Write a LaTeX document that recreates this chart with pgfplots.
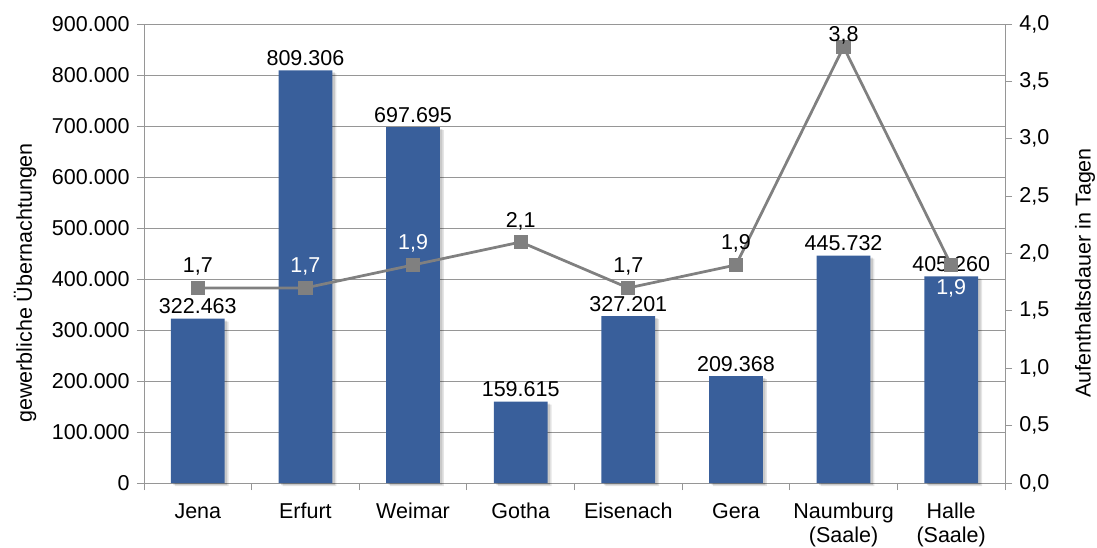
\documentclass[border=0pt]{standalone}
\usepackage{fontspec}
\setmainfont{Liberation Sans}
\usepackage{pgfplots}
\usepackage{pgfplotstable}
\pgfplotsset{compat=1.18}

\definecolor{barblue}{RGB}{57,95,155}
\definecolor{linegray}{RGB}{128,128,128}
\definecolor{gridgray}{RGB}{150,150,150}

% gewerbliche Übernachtungen je Stadt
\pgfplotstableread{
x y lab
0 322463 322.463
1 809306 809.306
2 697695 697.695
3 159615 159.615
4 327201 327.201
5 209368 209.368
6 445732 445.732
7 405260 405.260
}\uebernachtungen

% durchschnittliche Aufenthaltsdauer in Tagen
\pgfplotstableread{
x y
0 1.7
1 1.7
2 1.9
3 2.1
4 1.7
5 1.9
6 3.8
7 1.9
}\dauer

% Beschriftungen der Linie, nach Lage und Farbe gruppiert
\pgfplotstableread{
x y lab
0 1.7 1,7
3 2.1 2,1
4 1.7 1,7
5 1.9 1,9
}\dauerObenSchwarz
\pgfplotstableread{
x y lab
1 1.7 1,7
2 1.9 1,9
}\dauerObenWeiss
\pgfplotstableread{
x y lab
6 3.8 3,8
}\dauerSpitze
\pgfplotstableread{
x y lab
7 1.9 1,9
}\dauerUntenWeiss

\pgfplotsset{
  frame/.style={
    at={(144pt,64pt)}, anchor=south west,
    scale only axis, width=861pt, height=459pt,
    xmin=-0.5, xmax=7.5,
    tick align=outside,
    major tick length=7pt, minor tick length=7pt,
    tick style={gridgray, line width=1pt},
    axis line style={gridgray, line width=1pt},
    clip=false,
  },
}

\begin{document}
\fontsize{21.5}{23.5}\selectfont
\begin{tikzpicture}
\begin{axis}[
  frame,
  ymin=0, ymax=900000,
  ytick={0,100000,200000,300000,400000,500000,600000,700000,800000,900000},
  scaled y ticks=false,
  yticklabel style={/pgf/number format/.cd, fixed, 1000 sep={.}, assume math mode=true},
  ymajorgrids, grid style={gridgray, line width=1pt},
  ytick pos=left, xtick pos=bottom,
  xtick={0,...,7},
  xticklabels={Jena,Erfurt,Weimar,Gotha,Eisenach,Gera,{Naumburg\\(Saale)},{Halle\\(Saale)}},
  xticklabel style={align=center, yshift=-6pt},
  major x tick style={draw=none},
  minor xtick={-0.5,0.5,...,7.5},
  ylabel={gewerbliche Übernachtungen},
  ylabel style={at={(axis description cs:-0.138,0.436)}, anchor=center},
]
% weicher Schatten hinter den Säulen
\addplot[ybar, bar width=0.5, fill=black, fill opacity=0.12, draw=none,
  xshift=2.5pt, yshift=-2pt] table[x=x, y=y] {\uebernachtungen};
\addplot[ybar, bar width=0.5, fill=black, fill opacity=0.10, draw=none,
  xshift=4pt, yshift=-3pt] table[x=x, y=y] {\uebernachtungen};
\addplot[
  ybar, bar width=0.5, fill=barblue, draw=none,
  nodes near coords, point meta=explicit symbolic,
  nodes near coords style={black, anchor=base, yshift=5pt, inner sep=0pt},
] table[x=x, y=y, meta=lab] {\uebernachtungen};
\end{axis}

\begin{axis}[
  frame,
  ymin=0, ymax=4,
  hide x axis,
  axis y line*=right,
  tick align=outside,
  ytick={0,0.5,1,1.5,2,2.5,3,3.5,4},
  yticklabel style={/pgf/number format/.cd, fixed, fixed zerofill, precision=1, use comma, assume math mode=true},
  ylabel={Aufenthaltsdauer in Tagen},
  ylabel style={at={(axis description cs:1.093,0.4575)}, anchor=center},
]
\addplot[linegray, line width=2.75pt, mark=square*, mark size=5.7pt,
  mark options={fill=linegray, draw=none}] table[x=x, y=y] {\dauer};
\addplot[draw=none, mark=none, nodes near coords, point meta=explicit symbolic,
  nodes near coords style={black, anchor=base, yshift=15pt, inner sep=0pt}]
  table[x=x, y=y, meta=lab] {\dauerObenSchwarz};
\addplot[draw=none, mark=none, nodes near coords, point meta=explicit symbolic,
  nodes near coords style={white, anchor=base, yshift=15pt, inner sep=0pt}]
  table[x=x, y=y, meta=lab] {\dauerObenWeiss};
\addplot[draw=none, mark=none, nodes near coords, point meta=explicit symbolic,
  nodes near coords style={black, anchor=base, yshift=5pt, inner sep=0pt}]
  table[x=x, y=y, meta=lab] {\dauerSpitze};
\addplot[draw=none, mark=none, nodes near coords, point meta=explicit symbolic,
  nodes near coords style={white, anchor=base, yshift=-30pt, inner sep=0pt}]
  table[x=x, y=y, meta=lab] {\dauerUntenWeiss};
\end{axis}

\pgfresetboundingbox
\path[use as bounding box] (0,0) rectangle (1097pt,547pt);
\end{tikzpicture}
\end{document}
